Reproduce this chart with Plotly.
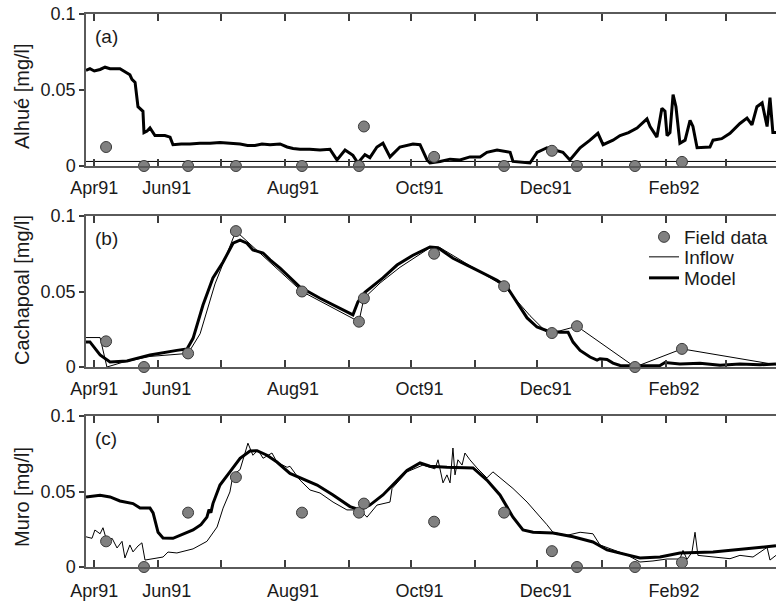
import pandas as pd
import plotly.graph_objects as go

# Time axis: values are days elapsed since the start of the record
START = pd.Timestamp("1991-04-23")
END = pd.Timestamp("1992-03-21 05:00")

# Sampling campaign days (shared by the three stations)
field_days = [9.7, 28.0, 49.3, 72.4, 104.3, 131.8, 134.2, 168.1, 201.9, 225.0, 237.1, 265.1, 287.8]

# ---- Alhué ----
alhue_field = [0.0125, 0, 0, 0, 0, 0, 0.026, 0.006, 0, 0.010, 0, 0, 0.0027]
alhue_inflow_days = [0, 333.2]
alhue_inflow = [0.003, 0.003]
alhue_model_days = [0, 1.9, 4.0, 6.8, 9.2, 11.6, 16.4, 18.8, 21.2, 22.2, 23.7, 25.1, 26.6, 27.5, 28.0,
                    29.5, 30.9, 33.3, 38.1, 40.6, 42.0, 46.0, 50.2, 55.0, 59.9, 64.7, 69.5, 74.4, 78.0,
                    81.6, 85.0, 88.9, 93.7, 97.1, 100.0, 103.3, 108.0, 113.0, 117.8, 121.2, 125.1,
                    128.9, 131.3, 134.7, 137.1, 140.5, 143.4, 146.8, 151.6, 157.9, 161.3, 164.7,
                    166.1, 171.0, 175.8, 180.6, 185.4, 190.3, 193.6, 198.5, 204.8, 206.2, 214.4,
                    217.8, 222.6, 230.3, 233.7, 238.6, 243.4, 247.2, 249.7, 254.5, 257.9, 262.0,
                    266.1, 270.9, 272.4, 275.7, 278.1, 279.6, 280.6, 282.0, 283.5, 284.9, 286.8,
                    289.3, 291.7, 293.1, 295.1, 301.3, 302.8, 307.0, 311.0, 315.8, 319.2, 321.6,
                    324.0, 326.5, 328.9, 330.3, 331.7, 333.2]
alhue_model = [0.063, 0.064, 0.0625, 0.0635, 0.065, 0.064, 0.064, 0.062, 0.060, 0.057, 0.055, 0.039,
               0.037, 0.036, 0.022, 0.023, 0.025, 0.020, 0.020, 0.019, 0.014, 0.0145, 0.0145, 0.015,
               0.015, 0.0155, 0.015, 0.0145, 0.0135, 0.0135, 0.0145, 0.014, 0.0145, 0.0125, 0.0115,
               0.011, 0.011, 0.0105, 0.011, 0.004, 0.0105, 0.007, 0.002, 0.0075, 0.0055, 0.0125,
               0.015, 0.006, 0.0125, 0.0145, 0.014, 0.004, 0.002, 0.003, 0.0045, 0.004, 0.006,
               0.006, 0.009, 0.0105, 0.009, 0.003, 0.002, 0.009, 0.012, 0.009, 0.004, 0.012, 0.017,
               0.0215, 0.014, 0.017, 0.020, 0.022, 0.025, 0.031, 0.026, 0.019, 0.038, 0.036, 0.020,
               0.022, 0.047, 0.039, 0.015, 0.017, 0.030, 0.026, 0.012, 0.0125, 0.017, 0.018, 0.0215,
               0.028, 0.0315, 0.027, 0.039, 0.0415, 0.026, 0.045, 0.022, 0.022]

# ---- Cachapoal ----
cach_field = [0.017, 0, 0.009, 0.090, 0.050, 0.030, 0.0455, 0.075, 0.0535, 0.0225, 0.027, 0, 0.012]
cach_inflow_days = [0, 6.8, 10.1, 17.4, 30.9, 49.3, 55.1, 62.3, 72.4, 104.3, 131.8, 134.2, 142.0,
                    151.6, 166.1, 171.0, 201.9, 214.4, 221.7, 225.0, 237.1, 265.1, 287.8, 333.2]
cach_inflow = [0.0195, 0.0195, 0.0, 0.003, 0.007, 0.009, 0.022, 0.055, 0.090, 0.050, 0.030, 0.0455,
               0.0556, 0.066, 0.079, 0.079, 0.0535, 0.034, 0.024, 0.0225, 0.027, 0.0, 0.012, 0.0015]
cach_model_days = [0, 1.9, 6.8, 11.6, 19.8, 30.9, 43.9, 48.8, 51.7, 56.5, 61.3, 66.2, 71.0, 74.4,
                   77.7, 80.6, 85.5, 88.9, 93.7, 103.3, 113.0, 122.7, 128.9, 131.3, 134.7, 143.4,
                   150.2, 157.9, 166.1, 170.0, 177.2, 186.9, 198.5, 203.3, 208.1, 213.0, 217.8,
                   222.6, 228.9, 232.8, 235.2, 238.6, 243.4, 246.8, 248.2, 251.6, 254.5, 257.9,
                   267.5, 277.2, 279.6, 286.8, 296.5, 306.2, 315.8, 325.5, 333.2]
cach_model = [0.0166, 0.0166, 0.008, 0.0033, 0.004, 0.008, 0.011, 0.012, 0.019, 0.041, 0.059,
              0.0695, 0.082, 0.084, 0.082, 0.0775, 0.0755, 0.071, 0.0655, 0.053, 0.0455, 0.039,
              0.0345, 0.043, 0.0495, 0.059, 0.0675, 0.074, 0.0795, 0.079, 0.072, 0.0655, 0.0575,
              0.053, 0.043, 0.0325, 0.0265, 0.024, 0.023, 0.023, 0.0165, 0.011, 0.0066, 0.0046,
              0.0055, 0.005, 0.0026, 0.001, 0.0008, 0.001, 0.003, 0.002, 0.0025, 0.0012, 0.002,
              0.0015, 0.002]

# ---- Muro ----
muro_field = [0.017, 0, 0.036, 0.0595, 0.036, 0.036, 0.042, 0.030, 0.036, 0.0105, 0, 0, 0.003]
muro_inflow_days = [0, 2.9, 4.3, 6.8, 8.2, 10.1, 12.6, 15.0, 17.4, 18.8, 21.2, 22.7, 25.1, 27.0,
                    28.5, 32.4, 37.2, 39.6, 43.9, 51.7, 58.4, 63.3, 66.2, 69.5, 71.0, 74.4, 76.8,
                    78.2, 80.6, 83.1, 85.5, 89.8, 92.2, 97.1, 98.5, 103.3, 108.2, 113.0, 119.3,
                    126.0, 132.3, 135.7, 140.5, 146.8, 147.8, 155.0, 162.7, 168.5, 170.0, 172.4,
                    174.3, 175.8, 177.2, 178.2, 179.6, 181.6, 183.0, 185.4, 188.8, 193.6, 196.5,
                    199.9, 206.2, 213.0, 217.8, 222.6, 225.5, 232.3, 238.6, 244.8, 248.2, 254.5,
                    261.3, 267.5, 273.8, 280.6, 286.8, 288.3, 290.2, 292.6, 294.1, 295.5, 302.8,
                    311.0, 315.8, 322.1, 328.9, 330.3, 333.2]
muro_inflow = [0.020, 0.019, 0.0245, 0.022, 0.026, 0.017, 0.019, 0.0126, 0.017, 0.006, 0.0146,
               0.010, 0.0139, 0.016, 0.0046, 0.0057, 0.0066, 0.0099, 0.0093, 0.012, 0.017, 0.0265,
               0.039, 0.0497, 0.061, 0.0645, 0.076, 0.082, 0.074, 0.0775, 0.072, 0.0755, 0.0695,
               0.066, 0.0667, 0.0576, 0.051, 0.049, 0.043, 0.0378, 0.0378, 0.033, 0.041, 0.043,
               0.052, 0.063, 0.0675, 0.065, 0.071, 0.0557, 0.061, 0.0557, 0.0788, 0.061, 0.071,
               0.0675, 0.0755, 0.071, 0.0656, 0.059, 0.063, 0.059, 0.052, 0.043, 0.0358, 0.028,
               0.023, 0.021, 0.023, 0.022, 0.0146, 0.0113, 0.008, 0.0033, 0.004, 0.0053, 0.0053,
               0.011, 0.005, 0.0097, 0.023, 0.0077, 0.0066, 0.0055, 0.0077, 0.0066, 0.013, 0.0046,
               0.0077]
muro_model_days = [0, 6.8, 11.6, 16.4, 22.7, 26.1, 30.9, 32.4, 34.8, 37.2, 42.0, 46.8, 51.7, 55.5,
                   58.4, 59.4, 60.3, 61.3, 64.7, 69.5, 74.4, 79.2, 82.6, 87.4, 92.2, 98.5, 111.6,
                   119.3, 127.5, 132.3, 137.1, 143.4, 151.6, 155.0, 161.3, 166.1, 174.3, 186.9,
                   193.6, 199.9, 206.2, 211.0, 215.9, 225.5, 235.2, 244.8, 251.6, 259.3, 267.5,
                   277.2, 286.8, 302.8, 319.2, 333.2]
muro_model = [0.0464, 0.0475, 0.0464, 0.0437, 0.042, 0.039, 0.039, 0.0358, 0.023, 0.0192, 0.019,
              0.0218, 0.0245, 0.028, 0.033, 0.038, 0.036, 0.042, 0.0543, 0.063, 0.072, 0.0768,
              0.077, 0.074, 0.0695, 0.062, 0.0543, 0.0477, 0.040, 0.0378, 0.041, 0.0477, 0.0596,
              0.064, 0.0689, 0.0667, 0.066, 0.0656, 0.0576, 0.0477, 0.033, 0.0245, 0.023, 0.0225,
              0.020, 0.0166, 0.0113, 0.0086, 0.006, 0.0066, 0.0093, 0.0099, 0.012, 0.014]

# Axis ticks and month labels
tick_dates = ["1991-04-27", "1991-05-28", "1991-06-27", "1991-07-28", "1991-08-28", "1991-09-27",
              "1991-10-28", "1991-11-27", "1991-12-28", "1992-01-28", "1992-02-26"]
label_dates = ["1991-04-27", "1991-06-01", "1991-08-01", "1991-10-01", "1991-12-01", "1992-02-01"]
label_text = ["Apr91", "Jun91", "Aug91", "Oct91", "Dec91", "Feb92"]
y_ticks = [0, 0.05, 0.1]
y_ticktext = ["0", "0.05", "0.1"]

stations = [
    ("Alhué [mg/l]", "(a)", alhue_field, alhue_inflow_days, alhue_inflow, alhue_model_days, alhue_model),
    ("Cachapoal [mg/l]", "(b)", cach_field, cach_inflow_days, cach_inflow, cach_model_days, cach_model),
    ("Muro [mg/l]", "(c)", muro_field, muro_inflow_days, muro_inflow, muro_model_days, muro_model),
]


def to_dates(days):
    return [START + pd.Timedelta(days=d) for d in days]


W, H = 776, 604
LEFT = 86
# vertical extent of each panel in pixels (top, bottom)
panel_px = [(14, 166), (216, 367), (416, 567)]
label_standoff = [5, 5, 7]
ytitle_center = [96, 290, 497]

FONT = "Liberation Sans, Arial, Helvetica, sans-serif"
AXIS_COLOR = "#5a5a5a"
TICK_COLOR = "#3c3c3c"
TEXT_COLOR = "#1a1a1a"

fig = go.Figure()
layout = dict(
    width=W, height=H,
    margin=dict(l=LEFT, r=0, t=0, b=0),
    paper_bgcolor="white", plot_bgcolor="white",
    font=dict(family=FONT, size=18, color=TEXT_COLOR),
    showlegend=True,
)

annotations = []
for i, (ytitle, tag, field, in_days, in_vals, mod_days, mod_vals) in enumerate(stations):
    n = "" if i == 0 else str(i + 1)
    xa, ya = "x" + n, "y" + n
    in_legend = (i == 1)

    fig.add_trace(go.Scatter(
        x=to_dates(in_days), y=in_vals, mode="lines", name="Inflow",
        line=dict(color="black", width=1), xaxis=xa, yaxis=ya,
        showlegend=in_legend, legend="legend2"))
    fig.add_trace(go.Scatter(
        x=to_dates(mod_days), y=mod_vals, mode="lines", name="Model",
        line=dict(color="black", width=3), xaxis=xa, yaxis=ya,
        showlegend=in_legend, legend="legend3"))
    fig.add_trace(go.Scatter(
        x=to_dates(field_days), y=field, mode="markers", name="Field data",
        marker=dict(size=11, color="#808080", line=dict(color="#3a3a3a", width=1)),
        cliponaxis=False, xaxis=xa, yaxis=ya,
        showlegend=in_legend, legend="legend"))

    top, bot = panel_px[i]
    # month labels sit on the major ticks, the monthly tick marks are minor ticks
    layout["xaxis" + n] = dict(
        domain=[0, 1], anchor=ya, type="date",
        range=[START, END],
        showline=True, linecolor=AXIS_COLOR, linewidth=1.5, mirror="ticks",
        tickmode="array", tickvals=label_dates, ticktext=label_text,
        ticks="inside", ticklen=0, tickcolor=TICK_COLOR,
        ticklabelstandoff=label_standoff[i],
        minor=dict(tickmode="array", tickvals=tick_dates, ticks="inside",
                   ticklen=7, tickwidth=1.5, tickcolor=TICK_COLOR, showgrid=False),
        showgrid=False, zeroline=False, automargin=False,
        tickfont=dict(size=18, family=FONT, color=TEXT_COLOR),
    )
    layout["yaxis" + n] = dict(
        domain=[1 - bot / H, 1 - top / H], anchor=xa,
        range=[0, 0.1],
        tickmode="array", tickvals=y_ticks, ticktext=y_ticktext,
        ticks="outside", ticklen=5, tickwidth=1.5, tickcolor=TICK_COLOR,
        showline=True, linecolor=AXIS_COLOR, linewidth=1.5, mirror=False,
        showgrid=False, zeroline=False, automargin=False,
        tickfont=dict(size=18, family=FONT, color=TEXT_COLOR),
    )
    annotations.append(dict(
        text=tag, xref="x" + n + " domain", yref="y" + n + " domain",
        x=0.01, y=1 - 22 / (bot - top),
        xanchor="left", yanchor="middle", showarrow=False,
        font=dict(size=19, family=FONT, color=TEXT_COLOR)))
    annotations.append(dict(
        text=ytitle, xref="paper", yref="paper",
        x=(22 - LEFT) / (W - LEFT), y=1 - ytitle_center[i] / H,
        xanchor="center", yanchor="middle", textangle=-90, showarrow=False,
        font=dict(size=20, family=FONT, color=TEXT_COLOR)))

layout["annotations"] = annotations

legend_style = dict(x=(644 - LEFT) / (W - LEFT), xanchor="left", yanchor="middle",
                    bgcolor="rgba(0,0,0,0)", borderwidth=0,
                    font=dict(size=19, family=FONT, color=TEXT_COLOR))
layout["legend"] = dict(y=1 - 237 / H, **legend_style)
layout["legend2"] = dict(y=1 - 257 / H, **legend_style)
layout["legend3"] = dict(y=1 - 278 / H, **legend_style)

fig.update_layout(**layout)
fig.write_html("out.html")
